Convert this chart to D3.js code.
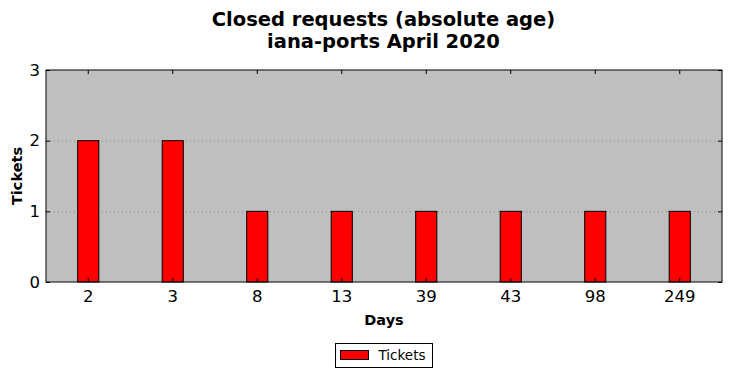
<!DOCTYPE html>
<html lang="en">
<head>
    <meta charset="UTF-8">
    <title>Closed requests (absolute age)</title>
    <script src="https://d3js.org/d3.v7.min.js"></script>
    <style>
        body { margin: 0; background: #fff; }
        text { font-family: "DejaVu Sans", sans-serif; }
    </style>
</head>
<body>
    <svg></svg>
    <script>
        const width = 731;
        const height = 378;
        const days = ['2', '3', '8', '13', '39', '43', '98', '249'];
        const tickets = [2, 2, 1, 1, 1, 1, 1, 1];
        const yTicks = [0, 1, 2, 3];
        const titleLines = ['Closed requests (absolute age)', 'iana-ports April 2020'];

        const margin = {left: 46, right: 9, top: 70, bottom: 96};
        const w = width - margin.left - margin.right;
        const h = height - margin.top - margin.bottom;

        const svg = d3.select("svg")
            .attr("width", width)
            .attr("height", height);

        const x = d3.scaleBand()
            .domain(days)
            .range([0, w])
            .padding(0);

        const y = d3.scaleLinear()
            .domain([0, 3])
            .range([h, 0]);

        const g = svg.append('g')
            .attr("transform", `translate(${margin.left}, ${margin.top})`);

        // plot background
        g.append('rect')
            .attr('width', w)
            .attr('height', h)
            .attr('fill', '#bfbfbf');

        // grid lines
        g.selectAll('.grid')
            .data(yTicks.filter(d => d > 0 && d < 3))
            .enter()
            .append('line')
                .attr('x1', 0)
                .attr('x2', w)
                .attr('y1', d => y(d) + 0.5)
                .attr('y2', d => y(d) + 0.5)
                .attr('stroke', '#808080')
                .attr('stroke-width', 1)
                .attr('stroke-dasharray', '1,3');

        // bars
        const barW = x.bandwidth() * 0.25;
        g.selectAll('.bar')
            .data(days)
            .enter()
            .append('rect')
                .attr('x', (d) => x(d) + x.bandwidth() / 2 - barW / 2)
                .attr('y', (d, i) => y(tickets[i]))
                .attr('width', barW)
                .attr('height', (d, i) => h - y(tickets[i]))
                .attr('fill', '#ff0000')
                .attr('stroke', '#000')
                .attr('stroke-width', 1);

        // axes (ticks pointing inward, on all sides)
        const xb = g.append('g')
            .attr('transform', `translate(0, ${h})`)
            .call(d3.axisBottom(x).tickSizeInner(-4).tickSizeOuter(0).tickPadding(8));
        const xt = g.append('g')
            .call(d3.axisTop(x).tickSizeInner(-4).tickSizeOuter(0).tickFormat(''));
        const yl = g.append('g')
            .call(d3.axisLeft(y).tickValues(yTicks).tickFormat(d3.format('d')).tickSizeInner(-4).tickSizeOuter(0).tickPadding(6));
        const yr = g.append('g')
            .attr('transform', `translate(${w}, 0)`)
            .call(d3.axisRight(y).tickValues(yTicks).tickSizeInner(-4).tickSizeOuter(0).tickFormat(''));

        [xb, xt, yl, yr].forEach(a => {
            a.select('.domain').remove();
            a.selectAll('line').attr('stroke', '#000');
            a.selectAll('text')
                .attr('fill', '#000')
                .style('font-family', '"DejaVu Sans", sans-serif')
                .style('font-size', '16.5px');
        });

        // frame
        g.append('rect')
            .attr('width', w)
            .attr('height', h)
            .attr('fill', 'none')
            .attr('stroke', '#000')
            .attr('stroke-width', 1);

        // title
        svg.append('g').selectAll('text')
            .data(titleLines)
            .enter()
            .append('text')
                .attr('x', margin.left + w / 2 - 0.5)
                .attr('y', (d, i) => 26 + i * 22)
                .attr('text-anchor', 'middle')
                .style('font-size', '19.5px')
                .style('font-weight', 'bold')
                .text(d => d);

        // axis labels
        svg.append('text')
            .attr('x', margin.left + w / 2)
            .attr('y', 325)
            .attr('text-anchor', 'middle')
            .style('font-size', '14.5px')
            .style('font-weight', 'bold')
            .text('Days');

        svg.append('text')
            .attr('transform', `translate(22, ${margin.top + h / 2}) rotate(-90)`)
            .attr('text-anchor', 'middle')
            .style('font-size', '14.5px')
            .style('font-weight', 'bold')
            .text('Tickets');

        // legend
        const lg = svg.append('g').attr('transform', 'translate(335.5, 343.5)');
        lg.append('rect')
            .attr('width', 97)
            .attr('height', 24)
            .attr('fill', '#fff')
            .attr('stroke', '#000');
        lg.append('rect')
            .attr('x', 5)
            .attr('y', 7)
            .attr('width', 28)
            .attr('height', 9)
            .attr('fill', '#ff0000')
            .attr('stroke', '#000');
        lg.append('text')
            .attr('x', 43)
            .attr('y', 16.5)
            .style('font-size', '13.5px')
            .text('Tickets');
    </script>
</body>
</html>
